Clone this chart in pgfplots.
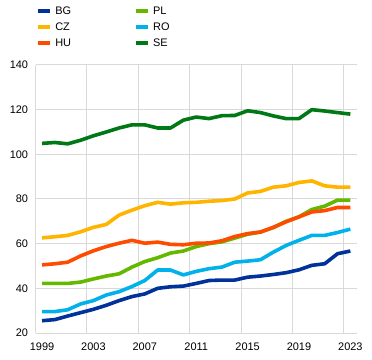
\documentclass[border=0pt]{standalone}
\usepackage{fontspec}
\setmainfont{Liberation Sans}
\usepackage{pgfplots}
\pgfplotsset{compat=1.18}
\definecolor{cBG}{HTML}{003299}
\definecolor{cCZ}{HTML}{FFB400}
\definecolor{cHU}{HTML}{FF4B00}
\definecolor{cPL}{HTML}{65B800}
\definecolor{cRO}{HTML}{00B1EA}
\definecolor{cSE}{HTML}{007816}
\definecolor{gridc}{HTML}{D9D9D9}
\begin{document}
\begin{tikzpicture}[x=1bp,y=1bp]
\useasboundingbox (0,0) rectangle (372,360);
\begin{axis}[
  at={(35.6bp,27bp)}, anchor=south west,
  width=321.2bp, height=268bp, scale only axis,
  xmin=1998.5, xmax=2023.5, ymin=20, ymax=140,
  xtick={1999,2003,...,2023}, ytick={20,40,...,140},
  minor xtick={2002.5,2006.5,...,2022.5},
  xminorgrids=true, ymajorgrids=true,
  grid style={draw=gridc, line width=1bp},
  minor grid style={draw=gridc, line width=1bp},
  axis x line*=bottom, axis y line*=left,
  axis line style={draw=gridc, line width=1bp},
  major tick length=0pt, minor tick length=0pt,
  tick label style={font=\fontsize{11}{13}\selectfont, text=black},
  /pgf/number format/assume math mode=true,
  x tick label style={/pgf/number format/1000 sep={}, yshift=-6bp},
  y tick label style={xshift=-4bp},
  legend columns=2,
  legend cell align=left,
  legend style={draw=none, fill=none, at={(0.0,1.232)}, anchor=north west,
    font=\fontsize{11}{13}\selectfont, inner sep=0pt,
    nodes={inner sep=3.5bp},
    /tikz/every even column/.append style={column sep=59bp}},
  legend image code/.code={\draw[line width=4bp] (0bp,0bp) -- (12bp,0bp);},
  every axis plot/.append style={line width=3.6bp, line join=round},
]
\addplot[cBG] coordinates {(1999,25.5) (2000,26) (2001,27.6) (2002,29.1) (2003,30.6) (2004,32.4) (2005,34.5) (2006,36.3) (2007,37.5) (2008,40) (2009,40.7) (2010,41) (2011,42.2) (2012,43.5) (2013,43.7) (2014,43.7) (2015,45) (2016,45.5) (2017,46.2) (2018,47) (2019,48.3) (2020,50.3) (2021,51) (2022,55.5) (2023,56.7)};
\addlegendentry{BG}
\addplot[cPL] coordinates {(1999,42.2) (2000,42.2) (2001,42.2) (2002,42.8) (2003,44.2) (2004,45.5) (2005,46.5) (2006,49.5) (2007,52) (2008,53.7) (2009,55.8) (2010,56.7) (2011,58.7) (2012,60) (2013,60.8) (2014,62.5) (2015,64.2) (2016,65.2) (2017,67.2) (2018,70) (2019,72) (2020,75.3) (2021,76.8) (2022,79.5) (2023,79.5)};
\addlegendentry{PL}
\addplot[cCZ] coordinates {(1999,62.6) (2000,63.1) (2001,63.7) (2002,65.3) (2003,67.3) (2004,68.6) (2005,72.8) (2006,75) (2007,77) (2008,78.5) (2009,77.7) (2010,78.3) (2011,78.5) (2012,79) (2013,79.3) (2014,80) (2015,82.7) (2016,83.4) (2017,85.3) (2018,85.9) (2019,87.4) (2020,88.1) (2021,85.9) (2022,85.3) (2023,85.3)};
\addlegendentry{CZ}
\addplot[cRO] coordinates {(1999,29.6) (2000,29.6) (2001,30.4) (2002,33) (2003,34.5) (2004,37) (2005,38.5) (2006,40.8) (2007,43.5) (2008,48.2) (2009,48.2) (2010,46) (2011,47.6) (2012,48.8) (2013,49.5) (2014,51.7) (2015,52.2) (2016,52.8) (2017,56.2) (2018,59.2) (2019,61.5) (2020,63.7) (2021,63.7) (2022,65) (2023,66.5)};
\addlegendentry{RO}
\addplot[cHU] coordinates {(1999,50.5) (2000,51) (2001,51.7) (2002,54.5) (2003,56.8) (2004,58.7) (2005,60.2) (2006,61.5) (2007,60.2) (2008,60.7) (2009,59.7) (2010,59.5) (2011,60.2) (2012,60.3) (2013,61.3) (2014,63.2) (2015,64.5) (2016,65.2) (2017,67.3) (2018,69.8) (2019,72) (2020,74.2) (2021,74.8) (2022,76.2) (2023,76.2)};
\addlegendentry{HU}
\addplot[cSE] coordinates {(1999,104.9) (2000,105.3) (2001,104.7) (2002,106.3) (2003,108.3) (2004,110) (2005,111.8) (2006,113.2) (2007,113.2) (2008,111.8) (2009,111.8) (2010,115.3) (2011,116.7) (2012,116) (2013,117.3) (2014,117.4) (2015,119.5) (2016,118.7) (2017,117.2) (2018,116) (2019,116) (2020,120) (2021,119.4) (2022,118.7) (2023,118)};
\addlegendentry{SE}
\end{axis}
\end{tikzpicture}
\end{document}
